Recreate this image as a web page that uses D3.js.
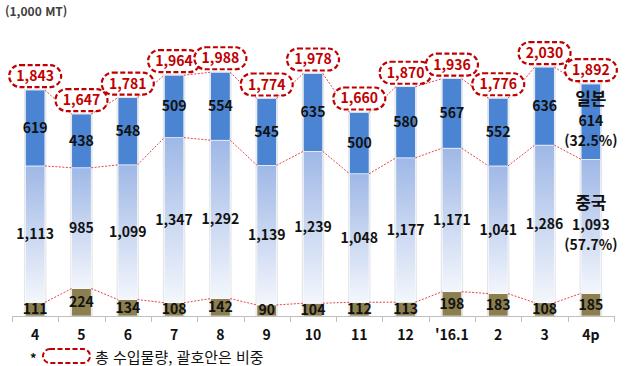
<!DOCTYPE html>
<html lang="ko">
<head>
<meta charset="UTF-8">
<title>월별 수입물량</title>
<script src="https://d3js.org/d3.v7.min.js"></script>
<style>
    body { margin: 0; background: #fff; }
    svg { display: block; font-family: "Noto Sans CJK KR", "Open Sans", sans-serif; }
</style>
</head>
<body>
<svg width="627" height="366"></svg>
<script>
    const categories = ["4", "5", "6", "7", "8", "9", "10", "11", "12", "'16.1", "2", "3", "4p"];
    const otherValues = [111, 224, 134, 108, 142, 90, 104, 112, 113, 198, 183, 108, 185];
    const chinaValues = [1113, 985, 1099, 1347, 1292, 1139, 1239, 1048, 1177, 1171, 1041, 1286, 1093];
    const japanValues = [619, 438, 548, 509, 554, 545, 635, 500, 580, 567, 552, 636, 614];
    const totalValues = [1843, 1647, 1781, 1964, 1988, 1774, 1978, 1660, 1870, 1936, 1776, 2030, 1892];
    const seriesNames = ["기타", "중국", "일본"];
    const lastNotes = { "일본": ["일본", "614", "(32.5%)"], "중국": ["중국", "1,093", "(57.7%)"] };

    const svg = d3.select("svg");
    const fmt = d3.format(",");

    const x = d3.scaleBand().domain(categories).range([12, 614]);
    const y = d3.scaleLinear().domain([0, 2100]).range([316, 316 - 2100 * 0.1226]);
    const barW = x.step() * 0.42;

    const rows = categories.map((c, i) => ({ cat: c, 기타: otherValues[i], 중국: chinaValues[i], 일본: japanValues[i], total: totalValues[i] }));
    const stack = d3.stack().keys(seriesNames)(rows);

    const defs = svg.append("defs");
    const grad = defs.append("linearGradient").attr("id", "chinaGrad")
        .attr("x1", 0).attr("y1", 0).attr("x2", 0).attr("y2", 1);
    grad.append("stop").attr("offset", "0%").attr("stop-color", "#9fb8e6");
    grad.append("stop").attr("offset", "100%").attr("stop-color", "#f3f6fc");

    const fills = { "기타": "#8b7e4f", "중국": "url(#chinaGrad)", "일본": "#4a84d2" };

    // unit label
    svg.append("text").attr("x", 5).attr("y", 16)
        .attr("font-size", 12).attr("font-weight", "bold").attr("fill", "#404040")
        .text("(1,000 MT)");

    // bar shadow outline
    svg.append("g").selectAll("rect").data(rows).join("rect")
        .attr("x", d => x(d.cat) + x.bandwidth() / 2 - barW / 2 - 1.5)
        .attr("width", barW + 3)
        .attr("y", d => y(d.total) - 1)
        .attr("height", d => y(0) - y(d.total) + 1)
        .attr("fill", "#e4e6ea");

    // stacked segments
    svg.append("g").selectAll("g").data(stack).join("g")
        .attr("fill", s => fills[s.key])
        .selectAll("rect").data(s => s).join("rect")
        .attr("x", d => x(d.data.cat) + x.bandwidth() / 2 - barW / 2)
        .attr("width", barW)
        .attr("y", d => y(d[1]))
        .attr("height", d => y(d[0]) - y(d[1]))
        .attr("stroke", "#ffffff").attr("stroke-width", 0.6);

    // red dotted series lines between bars
    const lines = svg.append("g").attr("stroke", "#e8444a").attr("stroke-width", 1)
        .attr("stroke-dasharray", "2,1.5").attr("fill", "none");
    stack.forEach(s => {
        for (let i = 0; i < s.length - 1; i++) {
            const a = s[i], b = s[i + 1];
            lines.append("line")
                .attr("x1", x(a.data.cat) + x.bandwidth() / 2 + barW / 2)
                .attr("y1", y(a[1]))
                .attr("x2", x(b.data.cat) + x.bandwidth() / 2 - barW / 2)
                .attr("y2", y(b[1]));
        }
    });

    // axis
    const axis = svg.append("g").attr("stroke", "#bfbfbf").attr("stroke-width", 1);
    axis.append("line").attr("x1", x.range()[0]).attr("x2", x.range()[1])
        .attr("y1", y(0) + 0.5).attr("y2", y(0) + 0.5);
    categories.concat([null]).forEach((c, i) => {
        const px = Math.round(x.range()[0] + i * x.step()) + 0.5;
        axis.append("line").attr("x1", px).attr("x2", px).attr("y1", y(0)).attr("y2", y(0) + 6);
    });
    svg.append("g").selectAll("text").data(categories).join("text")
        .attr("x", d => x(d) + x.bandwidth() / 2)
        .attr("y", 340)
        .attr("text-anchor", "middle").attr("font-size", 14).attr("font-weight", "bold")
        .attr("fill", "#111").text(d => d);

    // segment value labels
    const last = categories[categories.length - 1];
    stack.forEach(s => {
        svg.append("g").selectAll("text").data(s.filter(d => !(d.data.cat === last && lastNotes[s.key]))).join("text")
            .attr("x", d => x(d.data.cat) + x.bandwidth() / 2)
            .attr("y", d => (y(d[0]) + y(d[1])) / 2 + 5)
            .attr("text-anchor", "middle").attr("font-size", 14).attr("font-weight", "bold")
            .attr("fill", "#111").text(d => fmt(d.data[s.key]));
    });

    // notes in the last bar
    stack.filter(s => lastNotes[s.key]).forEach(s => {
        const d = s[s.length - 1];
        const cy = (y(d[0]) + y(d[1])) / 2 + 4;
        const t = svg.append("text").attr("text-anchor", "middle").attr("font-weight", "bold").attr("fill", "#111");
        lastNotes[s.key].forEach((line, k) => {
            t.append("tspan")
                .attr("x", x(last) + x.bandwidth() / 2)
                .attr("y", cy + (k - 1) * 20 + (k === 0 ? -1 : 0))
                .attr("font-size", k === 0 ? 17 : 14)
                .text(line);
        });
    });

    // total labels in dashed rounded boxes
    const tot = svg.append("g").selectAll("g").data(rows).join("g")
        .attr("transform", d => `translate(${x(d.cat) + x.bandwidth() / 2},${y(d.total) - 14})`);
    tot.append("rect").attr("x", -26).attr("y", -11).attr("width", 52).attr("height", 22)
        .attr("rx", 11).attr("fill", "#fff").attr("stroke", "#c00000")
        .attr("stroke-width", 2.2).attr("stroke-dasharray", "5,2.5");
    tot.append("text").attr("text-anchor", "middle").attr("y", 5)
        .attr("font-size", 14).attr("font-weight", "bold").attr("fill", "#c00000")
        .text(d => fmt(d.total));

    // legend
    svg.append("text").attr("x", 30).attr("y", 363).attr("font-size", 13)
        .attr("font-weight", "bold").attr("fill", "#111").text("*");
    svg.append("rect").attr("x", 43).attr("y", 349).attr("width", 47).attr("height", 14)
        .attr("rx", 7).attr("fill", "#fff").attr("stroke", "#c00000")
        .attr("stroke-width", 2).attr("stroke-dasharray", "5,2.5");
    svg.append("text").attr("x", 95).attr("y", 363).attr("font-size", 15)
        .attr("fill", "#111").text("총 수입물량, 괄호안은 비중");
</script>
</body>
</html>
